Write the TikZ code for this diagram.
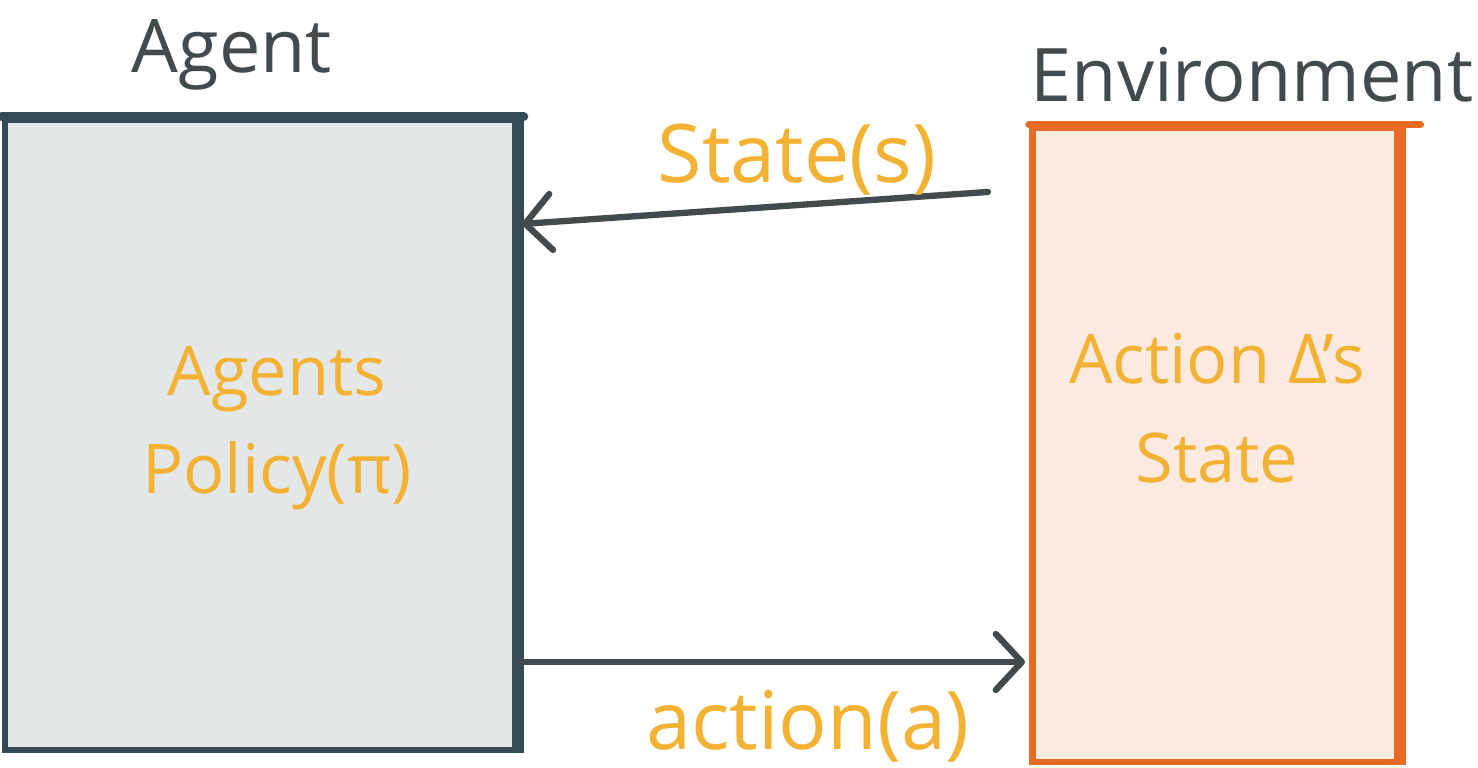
\documentclass[tikz,border=0pt]{standalone}
\usepackage{fontspec}
\setmainfont{Open Sans}
\usetikzlibrary{arrows.meta,calc,positioning}
\definecolor{rlink}{RGB}{53,74,87}
\definecolor{rlgrey}{RGB}{227,231,232}
\definecolor{rlorange}{RGB}{231,107,36}
\definecolor{rlpeach}{RGB}{250,234,224}
\definecolor{rlyellow}{RGB}{243,178,52}
\definecolor{rlpen}{RGB}{67,74,77}
\begin{document}
\begin{tikzpicture}[x=.01cm,y=.01cm,
    box/.style={rectangle,inner sep=0pt,line width=1.8pt},
    title/.style={text=rlpen,font=\fontsize{21}{26}\selectfont},
    scribble/.style={text=rlyellow,align=center,font=\fontsize{19.5}{28}\selectfont},
    flowlbl/.style={text=rlyellow,font=\fontsize{23}{28}\selectfont},
    flow/.style={draw=rlpen,line width=1.8pt,line cap=round,
      -{Straight Barb[length=2.6mm,width=5.6mm,line cap=round,line join=round]}}]
        \useasboundingbox (0,0) rectangle (1478,768);
        % the two boxes
        \node[box,draw=rlink,fill=rlgrey,minimum width=5.1cm,minimum height=6.3cm] (agent) at (260,333) {};
        \node[box,draw=rlorange,fill=rlpeach,minimum width=3.65cm,minimum height=6.34cm] (env) at (1215,323) {};
        \draw[rlink,line width=2.6pt,line cap=round] (agent.north west) -- ++(522,0);
        \draw[rlink,line width=3pt] (agent.north east) -- (agent.south east);
        \draw[rlorange,line width=2.2pt,line cap=round] (env.north west) -- ++(391,0);
        \draw[rlorange,line width=3pt] (env.north east) -- (env.south east);
        % titles
        \node[title] (agenttitle) at (232,713) {Agent};
        \node[title] (envtitle) at (1252,693) {Environment};
        % inside text
        \node[scribble] (policy) at (277,340) {Agents\\Policy(π)};
        \node[scribble] (actstate) at (1217,360) {Action Δ's\\State};
        % state and action
        \coordinate (sfrom) at (988,576);
        \coordinate (sto) at (522,544);
        \coordinate (afrom) at (520,106);
        \coordinate (ato) at (1025,106);
        \draw[flow] (sfrom) -- (sto);
        \draw[flow] (afrom) -- (ato);
        \node[flowlbl] (statelbl) at (797,608) {State(s)};
        \node[flowlbl] (actionlbl) at (808,42) {action(a)};
      \end{tikzpicture}
\end{document}
